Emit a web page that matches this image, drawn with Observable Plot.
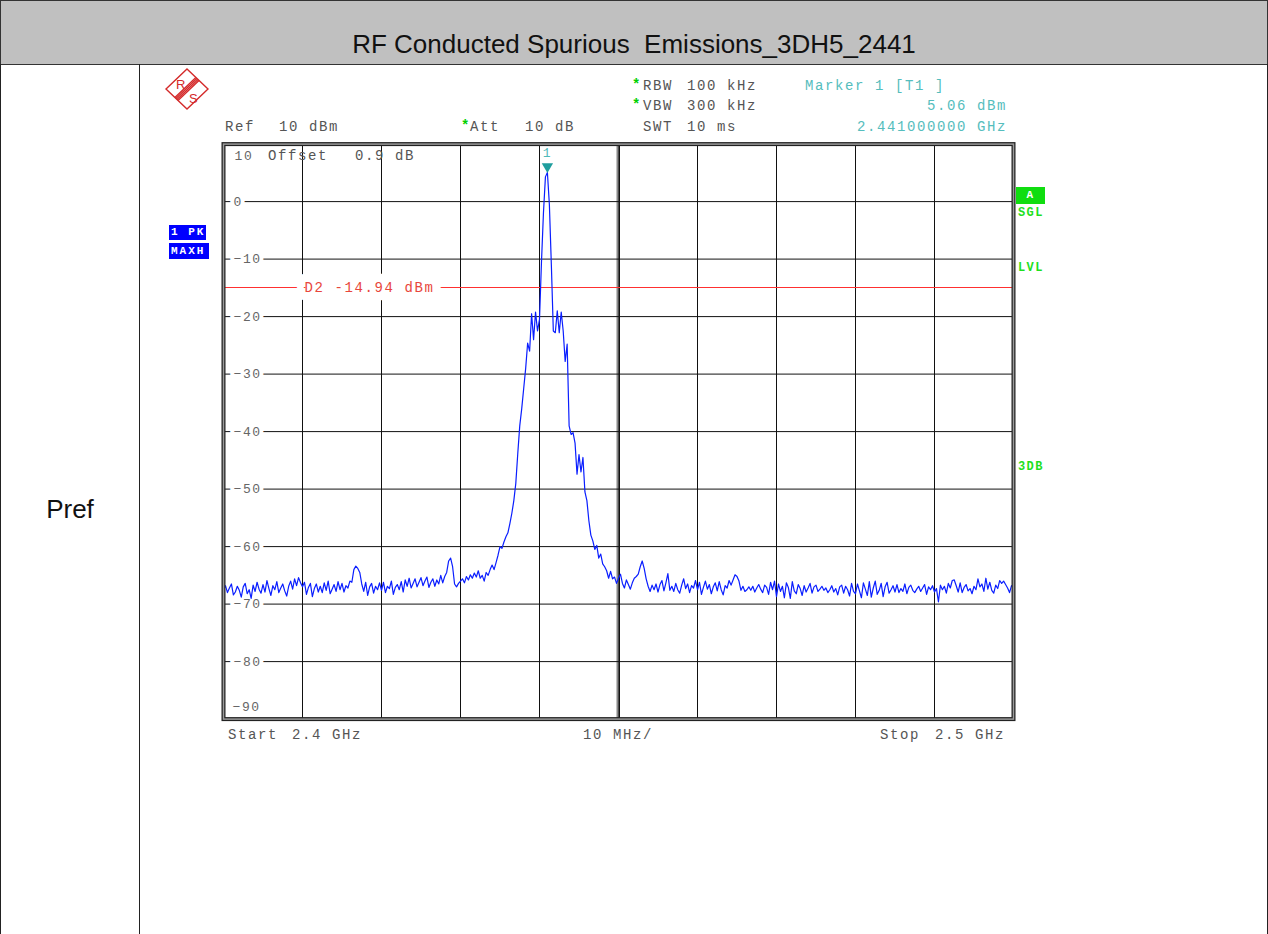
<!DOCTYPE html>
<html>
<head>
<meta charset="utf-8">
<script src="https://cdn.jsdelivr.net/npm/d3@7"></script>
<script src="https://cdn.jsdelivr.net/npm/@observablehq/plot@0.6"></script>
<style>
  body { margin: 0; background: #fff; }
  #page { position: relative; width: 1268px; height: 934px; overflow: hidden; background: #fff; font-family: "Liberation Sans", Arial, sans-serif; }
  .line { position: absolute; background: #222; }
  .ann { position: absolute; font-family: "Liberation Mono", monospace; font-size: 14px; letter-spacing: 1.6px; line-height: 14px; white-space: pre; color: #555; }
  .star { position: absolute; font-family: "Liberation Mono", monospace; font-size: 14px; line-height: 14px; color: #00d000; font-weight: bold; }
  .box { position: absolute; font-family: "Liberation Mono", monospace; font-weight: bold; font-size: 11px; letter-spacing: 2px; line-height: 15px; color: #fff; white-space: pre; box-sizing: border-box; padding-left: 2px; }
  .side { position: absolute; font-family: "Liberation Mono", monospace; font-weight: bold; font-size: 12px; letter-spacing: 1.4px; line-height: 12px; color: #1ee01e; }
  #chart { position: absolute; left: 140px; top: 65px; width: 1100px; }
</style>
</head>
<body>
<div id="page">
  <div style="position:absolute;left:0;top:0;width:1268px;height:65px;box-sizing:border-box;background:#c0c0c0;border:1px solid #333;"></div>
  <div style="position:absolute;left:0;top:31px;width:1268px;text-align:center;font-size:26px;line-height:26px;color:#111;white-space:pre;">RF Conducted Spurious  Emissions_3DH5_2441</div>
  <div class="line" style="left:0;top:64px;width:1px;height:870px;"></div>
  <div class="line" style="left:139px;top:64px;width:1px;height:870px;"></div>
  <div class="line" style="left:1267px;top:64px;width:1px;height:870px;"></div>
  <div style="position:absolute;left:0;top:496px;width:140px;text-align:center;font-size:26px;line-height:26px;color:#111;">Pref</div>

  <svg style="position:absolute;left:160px;top:66px" width="54" height="48" viewBox="0 0 54 48">
    <g fill="none" stroke="#d42a2a" stroke-width="1.4">
      <polygon points="27,3 48,23 27,43 6,23"/>
      <line x1="14.9" y1="31.4" x2="35.9" y2="11.4"/>
      <line x1="15.9" y1="32.5" x2="36.9" y2="12.5"/>
      <line x1="17.0" y1="33.5" x2="38.0" y2="13.5"/>
      <line x1="18.0" y1="34.6" x2="39.0" y2="14.6"/>
    </g>
    <text x="16" y="23" fill="#d42a2a" font-size="13" font-family="Liberation Sans, Arial">R</text>
    <text x="29" y="37" fill="#d42a2a" font-size="13" font-family="Liberation Sans, Arial">S</text>
  </svg>

  <div id="chart"></div>
  <div id="ann"></div>
</div>
<script>
// ---- data ----
const startGHz = 2.4;
const stopGHz = 2.5;
const refLevelDbm = 10;
const bottomDbm = -90;
const gridFreqGHz = [2.41, 2.42, 2.43, 2.44, 2.45, 2.46, 2.47, 2.48, 2.49];
const centerFreqGHz = [2.45];
const gridLevelDbm = [0, -10, -20, -30, -40, -50, -60, -70, -80];
const gridLevelLabels = ["0", "−10", "−20", "−30", "−40", "−50", "−60", "−70", "−80"];
const topLevelLabel = ["10"];
const bottomLevelLabel = ["−90"];
const markerFreqGHz = [2.441];
const markerLevelDbm = [5.06];
const markerLabel = ["1"];
const d2LevelDbm = [-14.94];
const d2LabelFreqGHz = [2.41];

// trace level (dBm), one value per 0.25 MHz from 2.400 to 2.500 GHz (401 points)
const traceDbm = [
  -67.5,-66.8,-68.0,-67.2,-66.5,-68.4,-67.9,-66.9,-67.6,-68.8,-67.0,-66.4,-68.2,-67.5,-69.0,-66.7,-67.8,-66.2,-67.4,-68.1,
  -66.6,-67.9,-65.9,-67.3,-68.5,-66.8,-67.5,-66.1,-68.0,-67.2,-66.5,-67.7,-68.6,-66.9,-66.0,-67.4,-65.6,-66.8,-65.4,-66.3,
  -67.0,-66.2,-68.3,-67.1,-66.4,-68.7,-67.3,-66.5,-67.9,-66.9,-68.0,-66.3,-67.6,-66.0,-68.2,-67.4,-66.6,-67.8,-66.1,-67.5,
  -66.4,-67.9,-66.8,-67.2,-66.0,-66.2,-64.0,-63.4,-63.8,-64.5,-66.5,-67.8,-66.2,-68.5,-67.0,-66.4,-68.1,-66.9,-67.5,-66.3,
  -67.6,-66.2,-68.0,-66.9,-67.3,-66.0,-68.3,-67.1,-66.6,-67.5,-66.1,-67.9,-65.8,-66.9,-65.5,-67.2,-66.4,-65.6,-67.0,-66.2,
  -65.4,-66.8,-66.0,-65.3,-67.1,-66.2,-65.6,-66.9,-65.8,-66.5,-65.0,-66.3,-65.2,-64.5,-62.5,-62.0,-63.5,-66.5,-67.0,-66.4,
  -66.0,-65.6,-66.3,-65.2,-65.8,-64.9,-65.5,-64.6,-65.3,-64.2,-65.5,-65.0,-66.0,-64.5,-65.0,-64.0,-63.2,-64.0,-62.8,-61.5,
  -60.0,-60.3,-59.2,-58.3,-57.6,-56.0,-54.2,-52.0,-49.0,-43.8,-39.0,-36.0,-32.5,-29.0,-24.6,-26.0,-19.5,-24.0,-19.2,-22.5,
  -20.5,-10.5,-2.0,4.3,5.06,-0.5,-11.0,-22.5,-22.8,-19.0,-22.8,-19.2,-22.5,-27.8,-24.8,-39.0,-40.5,-40.2,-42.0,-47.4,
  -44.0,-47.0,-44.5,-50.5,-52.0,-55.5,-58.0,-59.0,-60.5,-59.8,-62.0,-61.3,-63.0,-63.5,-64.2,-65.5,-64.3,-65.6,-65.3,-66.4,
  -65.5,-64.8,-66.4,-67.2,-65.8,-66.6,-67.4,-66.3,-65.5,-65.2,-64.8,-63.5,-62.5,-63.8,-65.6,-66.9,-67.8,-66.7,-67.5,-66.5,
  -67.9,-66.6,-65.9,-67.7,-66.3,-64.7,-67.6,-66.9,-67.8,-66.4,-67.5,-68.1,-66.7,-65.6,-67.3,-66.5,-68.0,-66.8,-67.2,-65.9,
  -67.5,-66.2,-68.3,-67.1,-66.0,-67.4,-66.6,-68.2,-67.0,-66.3,-67.7,-66.1,-67.5,-68.4,-66.8,-67.2,-65.9,-66.7,-65.8,-64.9,
  -65.2,-66.0,-67.6,-66.9,-67.8,-67.5,-67.0,-67.6,-66.9,-67.9,-67.2,-66.6,-67.4,-68.0,-66.7,-67.1,-68.3,-66.2,-67.5,-66.0,
  -68.7,-66.5,-67.8,-66.9,-68.9,-66.3,-67.1,-69.0,-66.1,-67.7,-68.2,-66.6,-67.3,-68.5,-66.8,-67.9,-67.2,-66.4,-68.1,-67.0,
  -66.7,-67.8,-67.4,-66.9,-67.6,-67.2,-68.0,-67.5,-66.8,-67.9,-67.3,-68.4,-67.0,-66.7,-68.1,-66.9,-67.5,-68.6,-66.4,-67.8,
  -68.2,-66.5,-67.7,-68.9,-66.3,-67.4,-68.5,-66.1,-68.8,-67.2,-66.0,-68.3,-67.6,-66.4,-68.7,-67.0,-66.2,-68.1,-67.5,-66.8,
  -67.9,-66.6,-68.0,-67.3,-67.8,-66.5,-68.2,-67.1,-66.7,-67.6,-68.0,-67.4,-66.9,-67.8,-67.2,-66.6,-68.3,-67.0,-67.5,-66.8,
  -67.9,-67.3,-69.6,-66.7,-67.5,-66.9,-68.1,-66.4,-67.2,-65.9,-65.8,-66.8,-67.9,-66.3,-68.0,-67.1,-66.6,-67.7,-67.3,-68.2,
  -66.9,-67.5,-65.6,-67.0,-66.5,-67.8,-65.5,-67.4,-66.2,-67.6,-68.1,-66.7,-67.3,-65.9,-66.4,-66.0,-66.6,-67.2,-68.0,-66.8,
  -67.1
];

// ---- chart ----
const stepGHz = (stopGHz - startGHz) / (traceDbm.length - 1);
const trace = traceDbm.map((v, i) => ({ f: startGHz + i * stepGHz, v }));
const gridLabels = gridLevelDbm.map((v, i) => ({ v, t: gridLevelLabels[i] }));
const markers = markerFreqGHz.map((f, i) => ({ f, v: markerLevelDbm[i], t: markerLabel[i] }));
const d2 = d2LevelDbm.map((v, i) => ({ f: d2LabelFreqGHz[i], v, t: `D2 ${v.toFixed(2)} dBm` }));

const W = 1100, H = 869;
const chart = Plot.plot({
  width: W, height: H,
  marginLeft: 83, marginRight: 227, marginTop: 78.6, marginBottom: 215.4,
  x: { domain: [startGHz, stopGHz], axis: null },
  y: { domain: [bottomDbm, refLevelDbm], axis: null },
  style: { background: "transparent", overflow: "visible", fontFamily: "Liberation Mono, monospace", letterSpacing: "1.6px" },
  marks: [
    Plot.ruleX(gridFreqGHz, { stroke: "#111", strokeWidth: 1 }),
    Plot.ruleX(centerFreqGHz, { stroke: "#888", strokeWidth: 2, dx: -1 }),
    Plot.ruleX(centerFreqGHz, { stroke: "#111", strokeWidth: 1, dx: 1 }),
    Plot.ruleY(gridLevelDbm, { stroke: "#111", strokeWidth: 1 }),
    Plot.ruleY(d2LevelDbm, { stroke: "#ff3030", strokeWidth: 1 }),
    Plot.text(gridLabels, { x: () => startGHz, y: "v", text: "t", textAnchor: "start", dx: 10, fontSize: 13, fill: "#666", stroke: "white", strokeWidth: 8 }),
    Plot.text(topLevelLabel, { x: () => startGHz, y: () => refLevelDbm, text: d => d, textAnchor: "start", dx: 11, dy: 12, fontSize: 13, fill: "#666" }),
    Plot.text(bottomLevelLabel, { x: () => startGHz, y: () => bottomDbm, text: d => d, textAnchor: "start", dx: 9, dy: -12, fontSize: 13, fill: "#666", stroke: "white", strokeWidth: 6 }),
    Plot.text(d2, { x: "f", y: "v", text: "t", textAnchor: "start", dx: 2, fontSize: 14, fill: "#e8463c", stroke: "white", strokeWidth: 17 }),
    Plot.line(trace, { x: "f", y: "v", stroke: "#0a1eff", strokeWidth: 1.2 }),
    Plot.dot(markers, { x: "f", y: "v", symbol: "triangle", rotate: 180, r: 4.2, fill: "#1f9e9e", stroke: "none", dy: -6 }),
    Plot.text(markers, { x: "f", y: "v", text: "t", dy: -20, fontSize: 13, fill: "#4fbaba" }),
    Plot.frame({ stroke: "#222", strokeWidth: 4 }),
    Plot.frame({ stroke: "#9a9a9a", strokeWidth: 1.5 })
  ]
});
document.getElementById("chart").append(chart);

// ---- instrument annotations (layout only) ----
const ann = [
  ["Ref", 225, 127, "#555"], ["10 dBm", 279, 127, "#555"],
  ["Att", 470, 127, "#555"], ["10 dB", 525, 127, "#555"],
  ["RBW", 643, 86, "#555"], ["100 kHz", 687, 86, "#555"],
  ["VBW", 643, 106, "#555"], ["300 kHz", 687, 106, "#555"],
  ["SWT", 643, 127, "#555"], ["10 ms", 687, 127, "#555"],
  ["Marker 1 [T1 ]", 805, 86, "#55bdbd"],
  ["5.06 dBm", 927, 106, "#55bdbd"],
  ["2.441000000 GHz", 857, 127, "#55bdbd"],
  ["Offset", 268, 156, "#555"], ["0.9", 355, 156, "#555"], ["dB", 395, 156, "#555"],
  ["Start", 228, 735, "#555"], ["2.4 GHz", 292, 735, "#555"],
  ["10 MHz/", 583, 735, "#555"],
  ["Stop", 880, 735, "#555"], ["2.5 GHz", 935, 735, "#555"]
];
const host = document.getElementById("ann");
for (const [t, x, cy, c] of ann) {
  const d = document.createElement("div");
  d.className = "ann"; d.textContent = t;
  d.style.left = x + "px"; d.style.top = (cy - 7) + "px"; d.style.color = c;
  host.append(d);
}
for (const [x, cy] of [[461, 123], [632, 82], [632, 102]]) {
  const s = document.createElement("div");
  s.className = "star"; s.textContent = "*";
  s.style.left = x + "px"; s.style.top = (cy - 4) + "px";
  host.append(s);
}
const boxes = [["1 PK", 169, 225, 37, 15, "#0000ff"], ["MAXH", 169, 243, 40, 16, "#0000ff"], [" A", 1016, 187, 29, 17, "#10dd10"]];
for (const [t, x, y, w, h, bg] of boxes) {
  const b = document.createElement("div");
  b.className = "box"; b.textContent = t;
  Object.assign(b.style, { left: x + "px", top: y + "px", width: w + "px", height: h + "px", background: bg, lineHeight: h + "px" });
  host.append(b);
}
for (const [t, y] of [["SGL", 213], ["LVL", 268], ["3DB", 467]]) {
  const s = document.createElement("div");
  s.className = "side"; s.textContent = t;
  s.style.left = "1018px"; s.style.top = (y - 6) + "px";
  host.append(s);
}
</script>
</body>
</html>
